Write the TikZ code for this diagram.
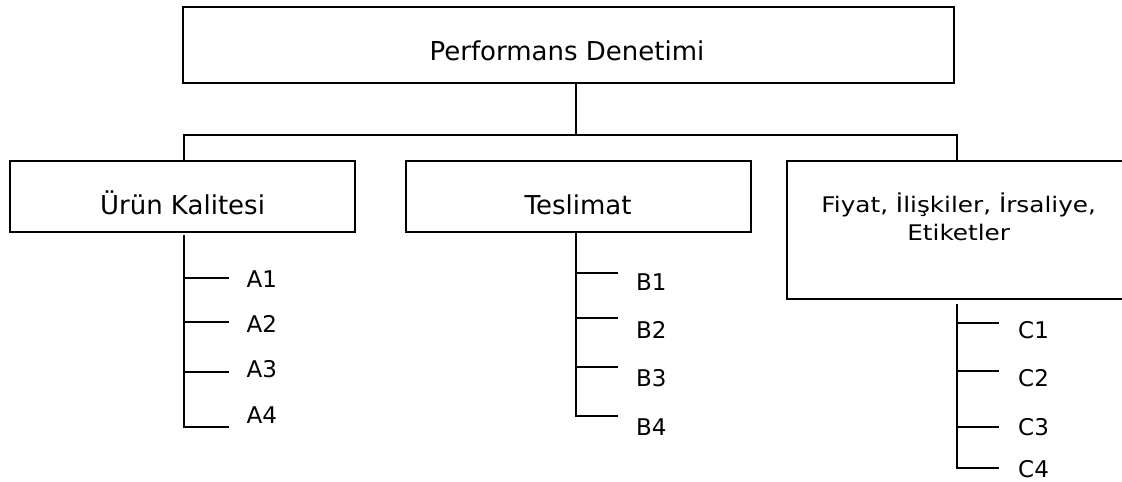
\documentclass[tikz,border=0pt]{standalone}
\usepackage{fontspec}
\setmainfont{DejaVu Sans}
\newfontfamily\widefont[FakeStretch=1.15]{DejaVu Sans}
\begin{document}
\begin{tikzpicture}[x=1pt,y=-1pt,
  box/.style={draw, line width=2pt, inner sep=0pt, rectangle},
  wire/.style={line width=2pt, line join=miter},
  head/.style={inner sep=0pt, anchor=base, font=\fontsize{26}{31}\selectfont},
  sub/.style={inner sep=0pt, anchor=base, font=\widefont\fontsize{21.5}{27}\selectfont},
  leaf/.style={inner sep=0pt, anchor=west, font=\fontsize{23}{27}\selectfont}]
\clip (0,0) rectangle (1122,482);
\fill[white] (0,0) rectangle (1122,482);
% boxes
\node[box, minimum width=770.7pt, minimum height=76pt] (top) at (568.3,44.7) {};
\node[box, minimum width=345pt, minimum height=71pt] (urun) at (182.5,196.2) {};
\node[box, minimum width=345pt, minimum height=71pt] (tes) at (578.2,196.2) {};
\node[box, minimum width=342.6pt, minimum height=138.6pt] (fiy) at (958,230) {};
% box texts
\node[head] (toptext) at (567,60.7) {Performans Denetimi};
\node[head] (urunt) at (182.5,214) {Ürün Kalitesi};
\node[head] (test) at (578,214) {Teslimat};
\node[sub] (fiyt1) at (958.7,212.7) {Fiyat, İlişkiler, İrsaliye,};
\node[sub] (fiyt2) at (958.7,240.5) {Etiketler};
% bus
\coordinate (hub) at (575.7,135);
\coordinate (busL) at (183.7,135);
\coordinate (busR) at (956.7,135);
\draw[wire] (hub |- top.south) -- (hub);
\draw[wire] (busL |- urun.north) -- (busL) -- (busR) -- (busR |- fiy.north);
% A branch
\coordinate (a0) at (183.7,235);
\coordinate (a1) at (229,277.7);
\coordinate (a2) at (229,322.3);
\coordinate (a3) at (229,371.7);
\coordinate (a4) at (229,426.7);
\draw[wire] (a0) -- (a0 |- a4) -- (a4);
\foreach \t in {a1,a2,a3} \draw[wire] (a0 |- \t) -- (\t);
\node[leaf] (A1) at (246.5,278.7) {A1};
\node[leaf] (A2) at (246.5,324) {A2};
\node[leaf] (A3) at (246.5,369) {A3};
\node[leaf] (A4) at (246.5,415) {A4};
% B branch
\coordinate (b1) at (618,273.3);
\coordinate (b2) at (618,318.3);
\coordinate (b3) at (618,367.3);
\coordinate (b4) at (618,416);
\draw[wire] (tes.south -| hub) -- (hub |- b4) -- (b4);
\foreach \t in {b1,b2,b3} \draw[wire] (hub |- \t) -- (\t);
\node[leaf] (B1) at (636,281.7) {B1};
\node[leaf] (B2) at (636,329.5) {B2};
\node[leaf] (B3) at (636,378.3) {B3};
\node[leaf] (B4) at (636,426.7) {B4};
% C branch
\coordinate (c0) at (957.3,304);
\coordinate (c1) at (999,323);
\coordinate (c2) at (999,370.7);
\coordinate (c3) at (999,426.7);
\coordinate (c4) at (999,468);
\draw[wire] (c0) -- (c0 |- c4) -- (c4);
\foreach \t in {c1,c2,c3} \draw[wire] (c0 |- \t) -- (\t);
\node[leaf] (C1) at (1018,330) {C1};
\node[leaf] (C2) at (1018,378.3) {C2};
\node[leaf] (C3) at (1018,426.7) {C3};
\node[leaf] (C4) at (1018,469.5) {C4};
\end{tikzpicture}
\end{document}
